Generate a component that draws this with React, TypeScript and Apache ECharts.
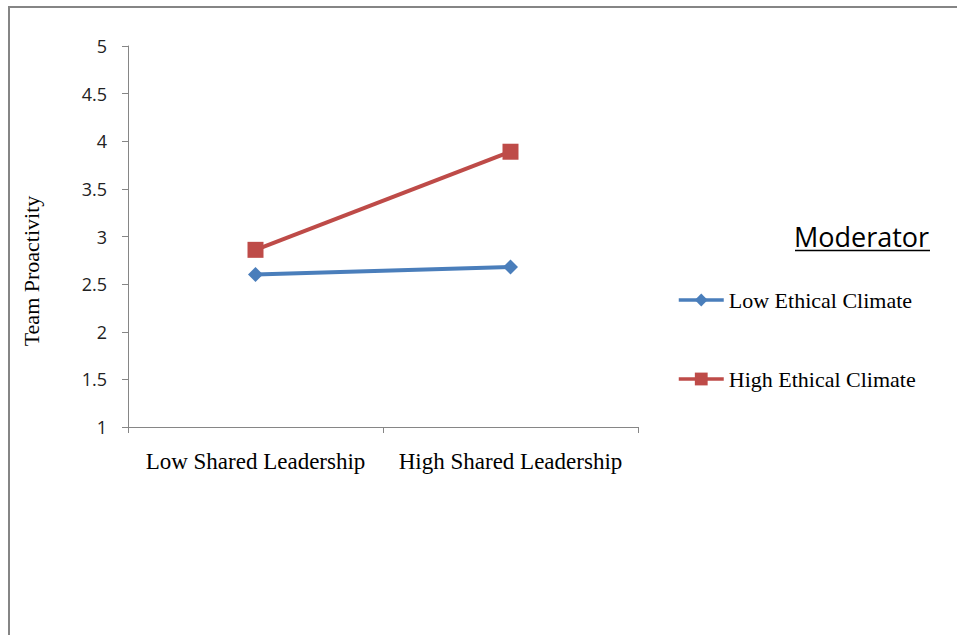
import React, { useEffect, useRef } from "react";
import * as echarts from "echarts";

const categories = ["Low Shared Leadership", "High Shared Leadership"];
const lowEthical = [2.6, 2.68];
const highEthical = [2.86, 3.89];
const seriesNames = ["Low Ethical Climate", "High Ethical Climate"];
const yTicks = { min: 1, max: 5, interval: 0.5 };

export default function App() {
  const ref = useRef<HTMLDivElement>(null);
  useEffect(() => {
    const chart = echarts.init(ref.current!, null, { renderer: "svg" });
    const serif = "'Liberation Serif', 'Times New Roman', serif";
    chart.setOption({
      animation: false,
      backgroundColor: "#ffffff",
      grid: { left: 128, right: 319, top: 46, bottom: 208, containLabel: false },
      xAxis: {
        type: "category",
        data: categories,
        boundaryGap: true,
        axisLine: { lineStyle: { color: "#868686", width: 1 } },
        axisTick: { show: true, length: 6, lineStyle: { color: "#868686" } },
        axisLabel: {
          color: "#000",
          fontFamily: serif,
          fontSize: 23,
          margin: 23,
          interval: 0,
          hideOverlap: false,
        },
      },
      yAxis: {
        type: "value",
        min: yTicks.min,
        max: yTicks.max,
        interval: yTicks.interval,
        axisLine: { show: true, lineStyle: { color: "#868686", width: 1 } },
        axisTick: { show: true, length: 6, lineStyle: { color: "#868686" } },
        splitLine: { show: false },
        axisLabel: { color: "#222", fontFamily: "'Open Sans', sans-serif", fontSize: 18, margin: 21 },
      },
      legend: {
        orient: "vertical",
        left: 677,
        top: 289,
        padding: 0,
        itemWidth: 45,
        itemHeight: 16,
        itemGap: 57,
        data: seriesNames,
        lineStyle: { width: 3.5 },
        textStyle: { color: "#000", fontFamily: serif, fontSize: 22 },
      },
      series: [
        {
          name: seriesNames[0],
          type: "line",
          data: lowEthical,
          symbol: "diamond",
          symbolSize: 15,
          color: "#4A7EBB",
          lineStyle: { width: 4, color: "#4A7EBB" },
          itemStyle: { color: "#4A7EBB" },
        },
        {
          name: seriesNames[1],
          type: "line",
          data: highEthical,
          symbol: "rect",
          symbolSize: 16,
          color: "#BE4B48",
          lineStyle: { width: 4, color: "#BE4B48" },
          itemStyle: { color: "#BE4B48" },
        },
      ],
      graphic: [
        {
          type: "rect",
          shape: { x: 9, y: 7, width: 2000, height: 2000 },
          style: { fill: "none", stroke: "#858585", lineWidth: 2 },
          silent: true,
        },
        {
          type: "text",
          x: 31,
          y: 271,
          rotation: Math.PI / 2,
          style: {
            text: "Team Proactivity",
            fill: "#000",
            font: "22px 'Liberation Serif', 'Times New Roman', serif",
            align: "center",
            verticalAlign: "middle",
          },
        },
        {
          type: "text",
          left: 794,
          top: 223,
          style: { text: "Moderator", fill: "#000", font: "27px 'Open Sans', sans-serif" },
        },
        {
          type: "line",
          shape: { x1: 795, y1: 250.5, x2: 930, y2: 250.5 },
          style: { stroke: "#000", lineWidth: 1.5 },
        },
      ],
    });
    return () => chart.dispose();
  }, []);
  return (
    <div
      ref={ref}
      style={{ position: "absolute", left: 0, top: 0, width: 957, height: 635 }}
    />
  );
}
